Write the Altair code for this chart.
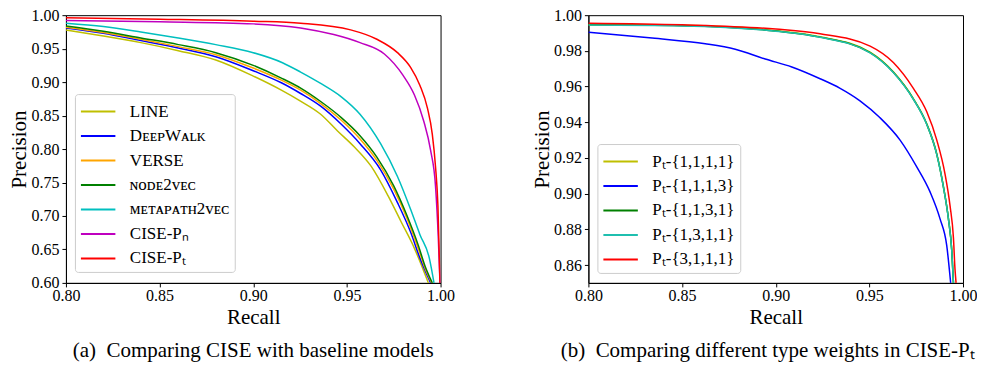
import altair as alt
import pandas as pd

FONT = "Liberation Serif"

# ---------------- panel (a): CISE vs baselines ----------------
a_names = ["LINE", "DᴇᴇᴘWᴀʟᴋ", "VERSE", "ɴᴏᴅᴇ2ᴠᴇᴄ", "ᴍᴇᴛᴀᴘᴀᴛʜ2ᴠᴇᴄ", "CISE-Pₙ", "CISE-Pₜ"]
a_colors = ["#bfbf00", "#0000ff", "#ffa500", "#008000", "#00bfbf", "#bf00bf", "#ff0000"]

line_recall = [0.80, 0.82, 0.84, 0.86, 0.88, 0.90, 0.915, 0.925, 0.936, 0.945, 0.954, 0.963, 0.972, 0.979, 0.986, 0.991, 0.9935]
line_prec = [0.978, 0.969, 0.959, 0.947, 0.933, 0.909, 0.888, 0.872, 0.852, 0.827, 0.803, 0.774, 0.730, 0.691, 0.652, 0.618, 0.600]

deepwalk_recall = [0.80, 0.82, 0.84, 0.86, 0.88, 0.90, 0.915, 0.9253, 0.936, 0.947, 0.957, 0.968, 0.977, 0.984, 0.989, 0.9947]
deepwalk_prec = [0.981, 0.973, 0.962, 0.951, 0.938, 0.917, 0.899, 0.883, 0.864, 0.837, 0.808, 0.769, 0.720, 0.676, 0.637, 0.600]

verse_recall = [0.80, 0.82, 0.84, 0.86, 0.88, 0.90, 0.915, 0.9253, 0.936, 0.947, 0.957, 0.966, 0.975, 0.982, 0.988, 0.992, 0.9953]
verse_prec = [0.982, 0.974, 0.964, 0.953, 0.941, 0.921, 0.903, 0.888, 0.868, 0.843, 0.815, 0.783, 0.740, 0.697, 0.652, 0.620, 0.600]

node2vec_recall = [0.80, 0.82, 0.84, 0.86, 0.88, 0.90, 0.915, 0.9253, 0.936, 0.947, 0.957, 0.966, 0.975, 0.982, 0.988, 0.992, 0.9956]
node2vec_prec = [0.984, 0.976, 0.966, 0.956, 0.944, 0.925, 0.906, 0.891, 0.871, 0.847, 0.820, 0.788, 0.745, 0.701, 0.657, 0.623, 0.600]

metapath_recall = [0.80, 0.82, 0.84, 0.86, 0.88, 0.90, 0.9156, 0.9253, 0.936, 0.947, 0.957, 0.968, 0.977, 0.984, 0.989, 0.994, 0.9965]
metapath_prec = [0.988, 0.983, 0.975, 0.966, 0.956, 0.944, 0.929, 0.915, 0.898, 0.878, 0.852, 0.808, 0.759, 0.710, 0.672, 0.637, 0.600]

cise_pn_recall = [0.80, 0.85, 0.90, 0.9253, 0.943, 0.957, 0.970, 0.980, 0.986, 0.991, 0.9947, 0.9973, 0.9988, 0.9997]
cise_pn_prec = [0.992, 0.990, 0.987, 0.981, 0.971, 0.959, 0.942, 0.910, 0.881, 0.842, 0.798, 0.745, 0.667, 0.600]

cise_pt_recall = [0.80, 0.85, 0.90, 0.9253, 0.952, 0.966, 0.977, 0.984, 0.989, 0.993, 0.9956, 0.9973, 0.9986, 0.9997]
cise_pt_prec = [0.996, 0.994, 0.991, 0.988, 0.978, 0.964, 0.944, 0.922, 0.895, 0.861, 0.822, 0.774, 0.715, 0.600]

a_series = [
    (line_recall, line_prec),
    (deepwalk_recall, deepwalk_prec),
    (verse_recall, verse_prec),
    (node2vec_recall, node2vec_prec),
    (metapath_recall, metapath_prec),
    (cise_pn_recall, cise_pn_prec),
    (cise_pt_recall, cise_pt_prec),
]

# ---------------- panel (b): type weights in CISE-Pt ----------------
b_names = ["Pₜ-{1,1,1,1}", "Pₜ-{1,1,1,3}", "Pₜ-{1,1,3,1}", "Pₜ-{1,3,1,1}", "Pₜ-{3,1,1,1}"]
b_colors = ["#bfbf00", "#0000ff", "#008000", "#1fbfaf", "#ff0000"]

w1111_recall = [0.80, 0.85, 0.90, 0.9237, 0.9504, 0.9628, 0.9735, 0.9806, 0.986, 0.9895, 0.9922, 0.994, 0.9949]
w1111_prec = [0.9947, 0.9943, 0.9913, 0.9879, 0.9793, 0.9683, 0.9533, 0.9393, 0.9223, 0.9043, 0.8863, 0.8683, 0.850]

w1113_recall = [0.80, 0.834, 0.8624, 0.8784, 0.8944, 0.9086, 0.9237, 0.9344, 0.945, 0.9557, 0.9664, 0.9753, 0.9824, 0.9877, 0.9913, 0.9934]
w1113_prec = [0.9905, 0.9872, 0.9840, 0.9809, 0.9754, 0.9710, 0.9644, 0.9590, 0.9520, 0.9425, 0.9300, 0.9150, 0.9010, 0.8860, 0.8710, 0.8500]

w1131_recall = [0.80, 0.85, 0.90, 0.9237, 0.9504, 0.9628, 0.9735, 0.9806, 0.986, 0.9895, 0.9922, 0.994, 0.9949]
w1131_prec = [0.9946, 0.9941, 0.9911, 0.9877, 0.9790, 0.9680, 0.9530, 0.9390, 0.9220, 0.9040, 0.8860, 0.8680, 0.850]

w1311_recall = [0.80, 0.85, 0.90, 0.9237, 0.9504, 0.9628, 0.9735, 0.9806, 0.986, 0.9895, 0.9922, 0.994, 0.9949]
w1311_prec = [0.9945, 0.9940, 0.9910, 0.9876, 0.9789, 0.9679, 0.9529, 0.9389, 0.9219, 0.9039, 0.8859, 0.8679, 0.850]

w3111_recall = [0.80, 0.85, 0.90, 0.9237, 0.9504, 0.9628, 0.9735, 0.9806, 0.986, 0.9904, 0.9931, 0.9949, 0.9957, 0.9963]
w3111_prec = [0.9955, 0.9946, 0.9922, 0.9896, 0.9827, 0.9735, 0.9590, 0.9460, 0.9300, 0.9110, 0.8930, 0.8750, 0.8580, 0.8500]

b_series = [
    (w1111_recall, w1111_prec),
    (w1113_recall, w1113_prec),
    (w1131_recall, w1131_prec),
    (w1311_recall, w1311_prec),
    (w3111_recall, w3111_prec),
]

x_ticks = [0.80, 0.85, 0.90, 0.95, 1.00]
a_y_ticks = [0.60, 0.65, 0.70, 0.75, 0.80, 0.85, 0.90, 0.95, 1.00]
b_y_ticks = [0.86, 0.88, 0.90, 0.92, 0.94, 0.96, 0.98, 1.00]

a_caption = "(a)\u2002Comparing CISE with baseline models"
b_caption = "(b)\u2002Comparing different type weights in CISE-Pₜ"


def to_frame(names, series):
    rows = []
    for k, (name, (rs, ps)) in enumerate(zip(names, series)):
        for r, p in zip(rs, ps):
            rows.append({"series": name, "k": k, "recall": r, "precision": p})
    return pd.DataFrame(rows)


def panel(names, colors, series, ydom, yticks, lx, ly, caption, cap_dx):
    df = to_frame(names, series)
    legend = alt.Legend(
        orient="none", legendX=lx, legendY=ly, title=None,
        symbolType="M-1,0H2", symbolSize=529, symbolStrokeWidth=2,
        labelFont=FONT, labelFontSize=17, labelColor="black", labelOffset=25,
        labelLimit=400, padding=5, rowPadding=3.5,
        strokeColor="#cccccc", fillColor="white", cornerRadius=3,
    )
    return alt.Chart(df).mark_line(strokeWidth=1.5, clip=True, interpolate="monotone").encode(
        x=alt.X("recall:Q",
                scale=alt.Scale(domain=[0.8, 1.0], nice=False, zero=False),
                axis=alt.Axis(title="Recall", values=x_ticks, format=".2f",
                              labelFlush=False, labelOverlap=False,
                              labelPadding=1, titlePadding=3)),
        y=alt.Y("precision:Q",
                scale=alt.Scale(domain=ydom, nice=False, zero=False),
                axis=alt.Axis(title="Precision", values=yticks, format=".2f",
                              labelOverlap=False, labelPadding=3, titlePadding=1)),
        color=alt.Color("series:N", scale=alt.Scale(domain=names, range=colors),
                        legend=legend),
        order=alt.Order("recall:Q"),
    ).properties(
        width=375, height=268,
        title=alt.TitleParams(caption, orient="bottom", anchor="middle",
                              font=FONT, fontSize=21, fontWeight="normal",
                              color="black", offset=12, dx=cap_dx),
    )


left = panel(a_names, a_colors, a_series, [0.6, 1.0], a_y_ticks, 9, 79, a_caption, 0)
right = panel(b_names, b_colors, b_series, [0.85, 1.0], b_y_ticks, 9, 129, b_caption, -8)

chart = alt.hconcat(left, right, spacing=148, bounds="flush").resolve_scale(
    color="independent"
).properties(
    padding={"left": 0, "top": -2, "right": -1, "bottom": 0}
).configure_view(
    stroke="black", strokeWidth=1
).configure_axis(
    domainColor="black", tickColor="black", tickSize=4, grid=False,
    labelFont=FONT, labelFontSize=16, labelColor="black",
    titleFont=FONT, titleFontSize=21, titleFontWeight="normal", titleColor="black",
)

chart.save("out.html", embed_options={"renderer": "svg", "actions": False})
